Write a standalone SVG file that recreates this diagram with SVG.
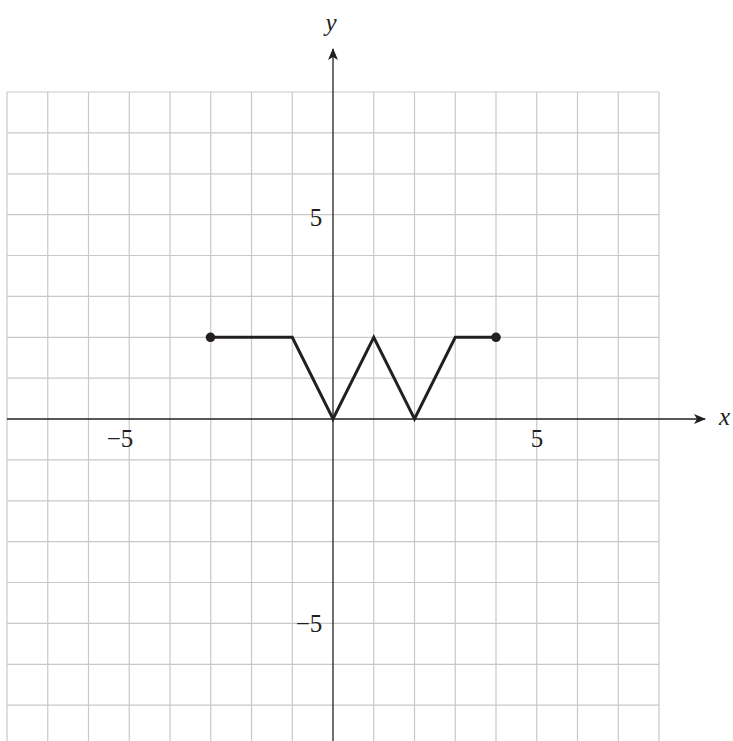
<svg xmlns="http://www.w3.org/2000/svg" width="733" height="741" viewBox="0 0 733 741">
<style>
.grid line{stroke:#c8c8c8;stroke-width:1.2}
.axis{stroke:#231f20;stroke-width:1.3;fill:none}
.curve{stroke:#231f20;stroke-width:3;fill:none;stroke-linejoin:miter;stroke-miterlimit:10}
text{font-family:'Liberation Serif','Times New Roman',Times,serif;font-size:25px;fill:#231f20}
.it{font-style:italic}
</style>
<defs>
<marker id="ah" viewBox="0 0 12 10" refX="11" refY="5" markerWidth="12" markerHeight="10" markerUnits="userSpaceOnUse" orient="auto">
<path d="M0,0 L12,5 L0,10 L3,5 Z" fill="#231f20"/>
</marker>
</defs>
<rect width="733" height="741" fill="#fff"/>
<g class="grid" id="grid">
<line x1="7" y1="92" x2="7" y2="741"/>
<line x1="47.75" y1="92" x2="47.75" y2="741"/>
<line x1="88.5" y1="92" x2="88.5" y2="741"/>
<line x1="129.25" y1="92" x2="129.25" y2="741"/>
<line x1="170" y1="92" x2="170" y2="741"/>
<line x1="210.75" y1="92" x2="210.75" y2="741"/>
<line x1="251.5" y1="92" x2="251.5" y2="741"/>
<line x1="292.25" y1="92" x2="292.25" y2="741"/>
<line x1="373.75" y1="92" x2="373.75" y2="741"/>
<line x1="414.5" y1="92" x2="414.5" y2="741"/>
<line x1="455.25" y1="92" x2="455.25" y2="741"/>
<line x1="496" y1="92" x2="496" y2="741"/>
<line x1="536.75" y1="92" x2="536.75" y2="741"/>
<line x1="577.5" y1="92" x2="577.5" y2="741"/>
<line x1="618.25" y1="92" x2="618.25" y2="741"/>
<line x1="659" y1="92" x2="659" y2="741"/>
<line x1="7" y1="92" x2="659" y2="92"/>
<line x1="7" y1="132.9" x2="659" y2="132.9"/>
<line x1="7" y1="173.8" x2="659" y2="173.8"/>
<line x1="7" y1="214.6" x2="659" y2="214.6"/>
<line x1="7" y1="255.5" x2="659" y2="255.5"/>
<line x1="7" y1="296.4" x2="659" y2="296.4"/>
<line x1="7" y1="337.3" x2="659" y2="337.3"/>
<line x1="7" y1="378.1" x2="659" y2="378.1"/>
<line x1="7" y1="459.9" x2="659" y2="459.9"/>
<line x1="7" y1="500.8" x2="659" y2="500.8"/>
<line x1="7" y1="541.6" x2="659" y2="541.6"/>
<line x1="7" y1="582.5" x2="659" y2="582.5"/>
<line x1="7" y1="623.4" x2="659" y2="623.4"/>
<line x1="7" y1="664.3" x2="659" y2="664.3"/>
<line x1="7" y1="705.1" x2="659" y2="705.1"/>
</g>
<g id="axes">
<line class="axis" x1="7" y1="419" x2="705" y2="419" marker-end="url(#ah)"/>
<line class="axis" x1="333" y1="741" x2="333" y2="49" marker-end="url(#ah)"/>
</g>
<g id="labels">
<text class="it" x="331" y="31" text-anchor="middle">y</text>
<text class="it" x="719" y="425">x</text>
<text x="537" y="447" text-anchor="middle">5</text>
<text x="120" y="447" text-anchor="middle">−5</text>
<text x="316" y="226" text-anchor="middle">5</text>
<text x="309" y="632" text-anchor="middle">−5</text>
</g>
<g id="graph">
<polyline class="curve" points="210.5,337.3 292.25,337.3 333,419 373.75,337.3 414.5,419 455.25,337.3 496,337.3"/>
<circle cx="210.5" cy="337.3" r="4.8" fill="#231f20"/>
<circle cx="496" cy="337.3" r="4.8" fill="#231f20"/>
</g>
</svg>
